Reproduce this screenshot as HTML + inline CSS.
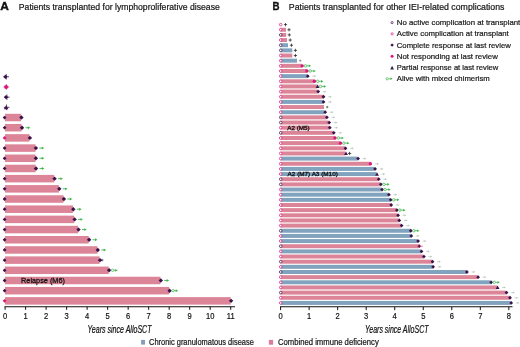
<!DOCTYPE html>
<html lang="en"><head><meta charset="utf-8"><title>Figure</title>
<style>html,body{margin:0;padding:0;background:#fff}body{width:520px;height:347px;overflow:hidden}svg{display:block}</style>
</head><body>
<svg width="520" height="347" viewBox="0 0 520 347" font-family="'Liberation Sans', sans-serif">
<rect width="520" height="347" fill="#fff"/>
<path d="M3.60 76.80H9.00M6.30 74.10V79.50" stroke="#3B1149" stroke-width="0.8" fill="none"/>
<path d="M3.30 76.80L5.40 74.70L7.50 76.80L5.40 78.90Z" fill="#3B1149"/>
<path d="M3.60 86.98H9.20M6.40 84.19V89.78" stroke="#D8197B" stroke-width="0.8" fill="none"/>
<circle cx="6.10" cy="86.98" r="2.0" fill="#D8197B"/>
<path d="M4.20 97.17H9.60M6.90 94.47V99.87" stroke="#3B1149" stroke-width="0.8" fill="none"/>
<path d="M3.90 97.17L6.00 95.07L8.10 97.17L6.00 99.27Z" fill="#3B1149"/>
<path d="M3.80 107.35H9.40M6.60 104.55V110.15" stroke="#3B1149" stroke-width="0.8" fill="none"/>
<path d="M3.90 109.22L6.10 105.15L8.30 109.22Z" fill="#3B1149"/>
<rect x="5.00" y="113.79" width="16.00" height="7.5" fill="#DD8598"/>
<path d="M2.70 117.54L4.60 115.64L6.50 117.54L4.60 119.44Z" fill="#3B1149"/>
<path d="M19.20 117.54L21.40 115.34L23.60 117.54L21.40 119.74Z" fill="#3B1149"/>
<rect x="5.00" y="123.97" width="16.60" height="7.5" fill="#DD8598"/>
<path d="M2.70 127.72L4.60 125.82L6.50 127.72L4.60 129.62Z" fill="#3B1149"/>
<path d="M19.80 127.72L22.00 125.52L24.20 127.72L22.00 129.92Z" fill="#3B1149"/>
<path d="M25.50 127.72H28.50" stroke="#3DB54A" stroke-width="0.9" fill="none"/><path d="M27.90 126.28L30.30 127.72L27.90 129.16Z" fill="#3DB54A"/>
<rect x="5.00" y="134.16" width="24.50" height="7.5" fill="#DD8598"/>
<path d="M2.70 137.91L4.60 136.01L6.50 137.91L4.60 139.81Z" fill="#D8197B"/>
<path d="M27.70 137.91L29.90 135.71L32.10 137.91L29.90 140.11Z" fill="#3B1149"/>
<rect x="5.00" y="144.34" width="30.50" height="7.5" fill="#DD8598"/>
<path d="M2.70 148.09L4.60 146.19L6.50 148.09L4.60 150.00Z" fill="#3B1149"/>
<path d="M33.70 148.09L35.90 145.90L38.10 148.09L35.90 150.29Z" fill="#3B1149"/>
<path d="M39.40 148.09H42.40" stroke="#3DB54A" stroke-width="0.9" fill="none"/><path d="M41.80 146.66L44.20 148.09L41.80 149.53Z" fill="#3DB54A"/>
<rect x="5.00" y="154.53" width="30.50" height="7.5" fill="#DD8598"/>
<path d="M2.70 158.28L4.60 156.38L6.50 158.28L4.60 160.18Z" fill="#3B1149"/>
<path d="M33.70 158.28L35.90 156.08L38.10 158.28L35.90 160.48Z" fill="#3B1149"/>
<path d="M39.40 158.28H42.40" stroke="#3DB54A" stroke-width="0.9" fill="none"/><path d="M41.80 156.84L44.20 158.28L41.80 159.72Z" fill="#3DB54A"/>
<rect x="5.00" y="164.72" width="30.60" height="7.5" fill="#DD8598"/>
<path d="M2.70 168.47L4.60 166.56L6.50 168.47L4.60 170.37Z" fill="#3B1149"/>
<path d="M33.80 168.47L36.00 166.27L38.20 168.47L36.00 170.66Z" fill="#3B1149"/>
<path d="M39.50 168.47H42.50" stroke="#3DB54A" stroke-width="0.9" fill="none"/><path d="M41.90 167.03L44.30 168.47L41.90 169.91Z" fill="#3DB54A"/>
<rect x="5.00" y="174.90" width="49.20" height="7.5" fill="#DD8598"/>
<path d="M2.70 178.65L4.60 176.75L6.50 178.65L4.60 180.55Z" fill="#3B1149"/>
<path d="M52.40 178.65L54.60 176.45L56.80 178.65L54.60 180.85Z" fill="#3B1149"/>
<path d="M58.10 178.65H61.10" stroke="#3DB54A" stroke-width="0.9" fill="none"/><path d="M60.50 177.21L62.90 178.65L60.50 180.09Z" fill="#3DB54A"/>
<rect x="5.00" y="185.09" width="53.90" height="7.5" fill="#DD8598"/>
<path d="M2.70 188.84L4.60 186.94L6.50 188.84L4.60 190.74Z" fill="#3B1149"/>
<path d="M57.10 188.84L59.30 186.64L61.50 188.84L59.30 191.03Z" fill="#3B1149"/>
<path d="M62.80 188.84H65.80" stroke="#3DB54A" stroke-width="0.9" fill="none"/><path d="M65.20 187.40L67.60 188.84L65.20 190.28Z" fill="#3DB54A"/>
<rect x="5.00" y="195.27" width="58.50" height="7.5" fill="#DD8598"/>
<path d="M2.70 199.02L4.60 197.12L6.50 199.02L4.60 200.92Z" fill="#3B1149"/>
<path d="M61.70 199.02L63.90 196.82L66.10 199.02L63.90 201.22Z" fill="#3B1149"/>
<path d="M67.40 199.02H70.40" stroke="#3DB54A" stroke-width="0.9" fill="none"/><path d="M69.80 197.58L72.20 199.02L69.80 200.46Z" fill="#3DB54A"/>
<rect x="5.00" y="205.45" width="67.90" height="7.5" fill="#DD8598"/>
<path d="M2.70 209.20L4.60 207.30L6.50 209.20L4.60 211.10Z" fill="#3B1149"/>
<path d="M71.10 209.20L73.30 207.00L75.50 209.20L73.30 211.40Z" fill="#3B1149"/>
<path d="M76.80 209.20H79.80" stroke="#3DB54A" stroke-width="0.9" fill="none"/><path d="M79.20 207.76L81.60 209.20L79.20 210.64Z" fill="#3DB54A"/>
<rect x="5.00" y="215.64" width="69.20" height="7.5" fill="#DD8598"/>
<path d="M2.70 219.39L4.60 217.49L6.50 219.39L4.60 221.29Z" fill="#3B1149"/>
<path d="M72.40 219.39L74.60 217.19L76.80 219.39L74.60 221.59Z" fill="#3B1149"/>
<path d="M78.10 219.39H81.10" stroke="#3DB54A" stroke-width="0.9" fill="none"/><path d="M80.50 217.95L82.90 219.39L80.50 220.83Z" fill="#3DB54A"/>
<rect x="5.00" y="225.82" width="73.10" height="7.5" fill="#DD8598"/>
<path d="M2.70 229.57L4.60 227.67L6.50 229.57L4.60 231.47Z" fill="#3B1149"/>
<path d="M76.30 229.57L78.50 227.38L80.70 229.57L78.50 231.77Z" fill="#3B1149"/>
<path d="M82.00 229.57H85.00" stroke="#3DB54A" stroke-width="0.9" fill="none"/><path d="M84.40 228.13L86.80 229.57L84.40 231.01Z" fill="#3DB54A"/>
<rect x="5.00" y="236.01" width="83.70" height="7.5" fill="#DD8598"/>
<path d="M2.70 239.76L4.60 237.86L6.50 239.76L4.60 241.66Z" fill="#3B1149"/>
<path d="M86.90 239.76L89.10 237.56L91.30 239.76L89.10 241.96Z" fill="#3B1149"/>
<path d="M92.60 239.76H95.60" stroke="#3DB54A" stroke-width="0.9" fill="none"/><path d="M95.00 238.32L97.40 239.76L95.00 241.20Z" fill="#3DB54A"/>
<rect x="5.00" y="246.19" width="92.40" height="7.5" fill="#DD8598"/>
<path d="M2.70 249.94L4.60 248.04L6.50 249.94L4.60 251.84Z" fill="#3B1149"/>
<path d="M95.60 249.94L97.80 247.75L100.00 249.94L97.80 252.14Z" fill="#3B1149"/>
<path d="M101.30 249.94H104.30" stroke="#3DB54A" stroke-width="0.9" fill="none"/><path d="M103.70 248.50L106.10 249.94L103.70 251.38Z" fill="#3DB54A"/>
<rect x="5.00" y="256.38" width="94.60" height="7.5" fill="#DD8598"/>
<path d="M2.70 260.13L4.60 258.23L6.50 260.13L4.60 262.03Z" fill="#3B1149"/>
<path d="M97.80 260.13L100.00 257.93L102.20 260.13L100.00 262.33Z" fill="#3B1149"/>
<path d="M100.90 260.13H103.50M102.20 258.83V261.43" stroke="#3B1149" stroke-width="0.6" fill="none"/>
<rect x="5.00" y="266.56" width="103.70" height="7.5" fill="#DD8598"/>
<path d="M2.70 270.31L4.60 268.42L6.50 270.31L4.60 272.21Z" fill="#3B1149"/>
<path d="M106.90 270.31L109.10 268.12L111.30 270.31L109.10 272.51Z" fill="#3B1149"/>
<path d="M113.30 270.31H115.90" stroke="#3DB54A" stroke-width="0.9" fill="none"/><path d="M115.30 268.88L117.70 270.31L115.30 271.75Z" fill="#3DB54A"/>
<circle cx="112.60" cy="270.31" r="1.2" fill="#fff" stroke="#3DB54A" stroke-width="0.7"/>
<rect x="5.00" y="276.75" width="155.40" height="7.5" fill="#DD8598"/>
<path d="M2.70 280.50L4.60 278.60L6.50 280.50L4.60 282.40Z" fill="#3B1149"/>
<path d="M158.60 280.50L160.80 278.30L163.00 280.50L160.80 282.70Z" fill="#3B1149"/>
<path d="M164.30 280.50H167.30" stroke="#3DB54A" stroke-width="0.9" fill="none"/><path d="M166.70 279.06L169.10 280.50L166.70 281.94Z" fill="#3DB54A"/>
<rect x="5.00" y="286.94" width="164.20" height="7.5" fill="#DD8598"/>
<path d="M2.70 290.69L4.60 288.79L6.50 290.69L4.60 292.58Z" fill="#3B1149"/>
<path d="M167.40 290.69L169.60 288.49L171.80 290.69L169.60 292.88Z" fill="#3B1149"/>
<path d="M173.80 290.69H176.40" stroke="#3DB54A" stroke-width="0.9" fill="none"/><path d="M175.80 289.25L178.20 290.69L175.80 292.12Z" fill="#3DB54A"/>
<circle cx="173.10" cy="290.69" r="1.2" fill="#fff" stroke="#3DB54A" stroke-width="0.7"/>
<rect x="5.00" y="297.12" width="225.70" height="7.5" fill="#DD8598"/>
<path d="M2.70 300.87L4.60 298.97L6.50 300.87L4.60 302.77Z" fill="#D8197B"/>
<path d="M228.90 300.87L231.10 298.67L233.30 300.87L231.10 303.07Z" fill="#3B1149"/>
<text x="21.1" y="283.20" font-size="7.7" fill="#151515" stroke="#151515" stroke-width="0.3" textLength="43.8" lengthAdjust="spacingAndGlyphs">Relapse (M6)</text>
<path d="M4.5 306.7H235" stroke="#111" stroke-width="1.1" fill="none"/>
<path d="M5.10 306.7V309.8" stroke="#111" stroke-width="1" fill="none"/>
<text x="5.10" y="319" font-size="8.8" text-anchor="middle" fill="#111" stroke="#111" stroke-width="0.2" transform="translate(0.71 0) scale(0.86 1)">0</text>
<path d="M25.61 306.7V309.8" stroke="#111" stroke-width="1" fill="none"/>
<text x="25.61" y="319" font-size="8.8" text-anchor="middle" fill="#111" stroke="#111" stroke-width="0.2" transform="translate(3.59 0) scale(0.86 1)">1</text>
<path d="M46.12 306.7V309.8" stroke="#111" stroke-width="1" fill="none"/>
<text x="46.12" y="319" font-size="8.8" text-anchor="middle" fill="#111" stroke="#111" stroke-width="0.2" transform="translate(6.46 0) scale(0.86 1)">2</text>
<path d="M66.63 306.7V309.8" stroke="#111" stroke-width="1" fill="none"/>
<text x="66.63" y="319" font-size="8.8" text-anchor="middle" fill="#111" stroke="#111" stroke-width="0.2" transform="translate(9.33 0) scale(0.86 1)">3</text>
<path d="M87.14 306.7V309.8" stroke="#111" stroke-width="1" fill="none"/>
<text x="87.14" y="319" font-size="8.8" text-anchor="middle" fill="#111" stroke="#111" stroke-width="0.2" transform="translate(12.20 0) scale(0.86 1)">4</text>
<path d="M107.65 306.7V309.8" stroke="#111" stroke-width="1" fill="none"/>
<text x="107.65" y="319" font-size="8.8" text-anchor="middle" fill="#111" stroke="#111" stroke-width="0.2" transform="translate(15.07 0) scale(0.86 1)">5</text>
<path d="M128.16 306.7V309.8" stroke="#111" stroke-width="1" fill="none"/>
<text x="128.16" y="319" font-size="8.8" text-anchor="middle" fill="#111" stroke="#111" stroke-width="0.2" transform="translate(17.94 0) scale(0.86 1)">6</text>
<path d="M148.67 306.7V309.8" stroke="#111" stroke-width="1" fill="none"/>
<text x="148.67" y="319" font-size="8.8" text-anchor="middle" fill="#111" stroke="#111" stroke-width="0.2" transform="translate(20.81 0) scale(0.86 1)">7</text>
<path d="M169.18 306.7V309.8" stroke="#111" stroke-width="1" fill="none"/>
<text x="169.18" y="319" font-size="8.8" text-anchor="middle" fill="#111" stroke="#111" stroke-width="0.2" transform="translate(23.69 0) scale(0.86 1)">8</text>
<path d="M189.69 306.7V309.8" stroke="#111" stroke-width="1" fill="none"/>
<text x="189.69" y="319" font-size="8.8" text-anchor="middle" fill="#111" stroke="#111" stroke-width="0.2" transform="translate(26.56 0) scale(0.86 1)">9</text>
<path d="M210.20 306.7V309.8" stroke="#111" stroke-width="1" fill="none"/>
<text x="210.20" y="319" font-size="8.8" text-anchor="middle" fill="#111" stroke="#111" stroke-width="0.2" transform="translate(29.43 0) scale(0.86 1)">10</text>
<path d="M230.71 306.7V309.8" stroke="#111" stroke-width="1" fill="none"/>
<text x="230.71" y="319" font-size="8.8" text-anchor="middle" fill="#111" stroke="#111" stroke-width="0.2" transform="translate(32.30 0) scale(0.86 1)">11</text>
<text x="87.5" y="332.8" font-size="10" font-style="italic" fill="#111" stroke="#111" stroke-width="0.22" textLength="64" lengthAdjust="spacingAndGlyphs">Years since AlloSCT</text>
<circle cx="280.70" cy="24.60" r="1.3" fill="#fff" stroke="#D8197B" stroke-width="0.75"/>
<path d="M283.90 24.60H287.10M285.50 23.00V26.20" stroke="#2a2a2a" stroke-width="0.8" fill="none"/>
<rect x="280.60" y="27.75" width="5.40" height="4.0" fill="#DD8598"/>
<circle cx="280.70" cy="29.75" r="1.3" fill="#fff" stroke="#D8197B" stroke-width="0.75"/>
<path d="M287.40 29.75H290.60M289.00 28.15V31.35" stroke="#2a2a2a" stroke-width="0.8" fill="none"/>
<rect x="280.60" y="32.91" width="5.60" height="4.0" fill="#DD8598"/>
<circle cx="280.70" cy="34.91" r="1.3" fill="#fff" stroke="#3B1149" stroke-width="0.75"/>
<path d="M287.70 34.91H290.90M289.30 33.31V36.51" stroke="#2a2a2a" stroke-width="0.8" fill="none"/>
<rect x="280.60" y="38.06" width="6.40" height="4.0" fill="#DD8598"/>
<circle cx="280.70" cy="40.06" r="1.3" fill="#fff" stroke="#D8197B" stroke-width="0.75"/>
<path d="M288.60 40.06H291.80M290.20 38.46V41.66" stroke="#2a2a2a" stroke-width="0.8" fill="none"/>
<rect x="280.60" y="43.22" width="7.40" height="4.0" fill="#82A3BE"/>
<circle cx="280.70" cy="45.22" r="1.3" fill="#fff" stroke="#3B1149" stroke-width="0.75"/>
<path d="M289.90 45.22H293.10M291.50 43.62V46.82" stroke="#2a2a2a" stroke-width="0.8" fill="none"/>
<rect x="280.60" y="48.37" width="11.70" height="4.0" fill="#82A3BE"/>
<circle cx="280.70" cy="50.37" r="1.3" fill="#fff" stroke="#3B1149" stroke-width="0.75"/>
<path d="M293.80 50.37H297.00M295.40 48.77V51.97" stroke="#2a2a2a" stroke-width="0.8" fill="none"/>
<rect x="280.60" y="53.52" width="11.70" height="4.0" fill="#DD8598"/>
<circle cx="280.70" cy="55.52" r="1.3" fill="#fff" stroke="#D8197B" stroke-width="0.75"/>
<path d="M293.80 55.52H297.00M295.40 53.92V57.12" stroke="#2a2a2a" stroke-width="0.8" fill="none"/>
<rect x="280.60" y="58.68" width="16.40" height="4.0" fill="#82A3BE"/>
<circle cx="280.70" cy="60.68" r="1.3" fill="#fff" stroke="#D8197B" stroke-width="0.75"/>
<path d="M299.00 60.68H301.40M300.20 59.48V61.88" stroke="#8a8a8a" stroke-width="0.8" fill="none"/>
<rect x="280.60" y="63.83" width="21.40" height="4.0" fill="#DD8598"/>
<circle cx="280.70" cy="65.83" r="1.3" fill="#fff" stroke="#D8197B" stroke-width="0.75"/>
<circle cx="302.20" cy="65.83" r="1.7" fill="#D8197B"/>
<path d="M306.50 65.83H309.40" stroke="#3DB54A" stroke-width="0.8" fill="none"/><path d="M308.80 64.47L311.10 65.83L308.80 67.19Z" fill="#3DB54A"/>
<circle cx="305.50" cy="65.83" r="1.25" fill="#fff" stroke="#3DB54A" stroke-width="0.75"/>
<rect x="280.60" y="68.99" width="26.10" height="4.0" fill="#DD8598"/>
<circle cx="280.70" cy="70.99" r="1.3" fill="#fff" stroke="#D8197B" stroke-width="0.75"/>
<circle cx="306.90" cy="70.99" r="1.7" fill="#D8197B"/>
<path d="M311.20 70.99H314.10" stroke="#3DB54A" stroke-width="0.8" fill="none"/><path d="M313.50 69.63L315.80 70.99L313.50 72.35Z" fill="#3DB54A"/>
<circle cx="310.20" cy="70.99" r="1.25" fill="#fff" stroke="#3DB54A" stroke-width="0.75"/>
<rect x="280.60" y="74.14" width="26.70" height="4.0" fill="#82A3BE"/>
<circle cx="280.70" cy="76.14" r="1.3" fill="#fff" stroke="#D8197B" stroke-width="0.75"/>
<path d="M305.90 76.14L307.80 74.24L309.70 76.14L307.80 78.04Z" fill="#3B1149"/>
<path d="M312.30 76.14H314.70" stroke="#B9C6BB" stroke-width="0.7" fill="none"/><path d="M314.10 75.02L316.10 76.14L314.10 77.26Z" fill="#B9C6BB"/>
<rect x="280.60" y="79.29" width="33.60" height="4.0" fill="#DD8598"/>
<circle cx="280.70" cy="81.29" r="1.3" fill="#fff" stroke="#D8197B" stroke-width="0.75"/>
<circle cx="314.40" cy="81.29" r="1.7" fill="#D8197B"/>
<path d="M318.70 81.29H321.60" stroke="#3DB54A" stroke-width="0.8" fill="none"/><path d="M321.00 79.93L323.30 81.29L321.00 82.65Z" fill="#3DB54A"/>
<circle cx="317.70" cy="81.29" r="1.25" fill="#fff" stroke="#3DB54A" stroke-width="0.75"/>
<rect x="280.60" y="84.45" width="36.40" height="4.0" fill="#DD8598"/>
<circle cx="280.70" cy="86.45" r="1.3" fill="#fff" stroke="#D8197B" stroke-width="0.75"/>
<path d="M315.70 88.06L317.60 84.55L319.50 88.06Z" fill="#3B1149"/>
<path d="M321.50 86.45H324.40" stroke="#3DB54A" stroke-width="0.8" fill="none"/><path d="M323.80 85.09L326.10 86.45L323.80 87.81Z" fill="#3DB54A"/>
<circle cx="320.50" cy="86.45" r="1.25" fill="#fff" stroke="#3DB54A" stroke-width="0.75"/>
<rect x="280.60" y="89.60" width="37.10" height="4.0" fill="#DD8598"/>
<circle cx="280.70" cy="91.60" r="1.3" fill="#fff" stroke="#D8197B" stroke-width="0.75"/>
<path d="M316.30 91.60L318.20 89.70L320.10 91.60L318.20 93.50Z" fill="#3B1149"/>
<path d="M322.70 91.60H325.10" stroke="#B9C6BB" stroke-width="0.7" fill="none"/><path d="M324.50 90.48L326.50 91.60L324.50 92.72Z" fill="#B9C6BB"/>
<rect x="280.60" y="94.76" width="42.40" height="4.0" fill="#DD8598"/>
<circle cx="280.70" cy="96.76" r="1.3" fill="#fff" stroke="#D8197B" stroke-width="0.75"/>
<path d="M321.60 96.76L323.50 94.86L325.40 96.76L323.50 98.66Z" fill="#3B1149"/>
<path d="M328.00 96.76H330.40" stroke="#B9C6BB" stroke-width="0.7" fill="none"/><path d="M329.80 95.64L331.80 96.76L329.80 97.88Z" fill="#B9C6BB"/>
<rect x="280.60" y="99.91" width="42.40" height="4.0" fill="#82A3BE"/>
<circle cx="280.70" cy="101.91" r="1.3" fill="#fff" stroke="#D8197B" stroke-width="0.75"/>
<path d="M321.60 101.91L323.50 100.01L325.40 101.91L323.50 103.81Z" fill="#3B1149"/>
<path d="M328.00 101.91H330.40" stroke="#B9C6BB" stroke-width="0.7" fill="none"/><path d="M329.80 100.79L331.80 101.91L329.80 103.03Z" fill="#B9C6BB"/>
<rect x="280.60" y="105.06" width="43.40" height="4.0" fill="#DD8598"/>
<circle cx="280.70" cy="107.06" r="1.3" fill="#fff" stroke="#D8197B" stroke-width="0.75"/>
<path d="M326.00 107.06H328.40M327.20 105.86V108.26" stroke="#3a6a3a" stroke-width="0.8" fill="none"/>
<rect x="280.60" y="110.22" width="44.10" height="4.0" fill="#82A3BE"/>
<circle cx="280.70" cy="112.22" r="1.3" fill="#fff" stroke="#D8197B" stroke-width="0.75"/>
<path d="M323.30 112.22L325.20 110.32L327.10 112.22L325.20 114.12Z" fill="#3B1149"/>
<path d="M329.70 112.22H332.10" stroke="#B9C6BB" stroke-width="0.7" fill="none"/><path d="M331.50 111.10L333.50 112.22L331.50 113.34Z" fill="#B9C6BB"/>
<rect x="280.60" y="115.37" width="45.80" height="4.0" fill="#DD8598"/>
<circle cx="280.70" cy="117.37" r="1.3" fill="#fff" stroke="#3B1149" stroke-width="0.75"/>
<path d="M325.00 117.37L326.90 115.47L328.80 117.37L326.90 119.27Z" fill="#3B1149"/>
<path d="M331.40 117.37H333.80" stroke="#B9C6BB" stroke-width="0.7" fill="none"/><path d="M333.20 116.25L335.20 117.37L333.20 118.49Z" fill="#B9C6BB"/>
<rect x="280.60" y="120.53" width="48.10" height="4.0" fill="#DD8598"/>
<circle cx="280.70" cy="122.53" r="1.3" fill="#fff" stroke="#3B1149" stroke-width="0.75"/>
<path d="M327.30 122.53L329.20 120.63L331.10 122.53L329.20 124.43Z" fill="#3B1149"/>
<path d="M333.70 122.53H336.10" stroke="#B9C6BB" stroke-width="0.7" fill="none"/><path d="M335.50 121.41L337.50 122.53L335.50 123.65Z" fill="#B9C6BB"/>
<rect x="280.60" y="125.68" width="48.70" height="4.0" fill="#DD8598"/>
<circle cx="280.70" cy="127.68" r="1.3" fill="#fff" stroke="#D8197B" stroke-width="0.75"/>
<path d="M327.90 127.68L329.80 125.78L331.70 127.68L329.80 129.58Z" fill="#3B1149"/>
<path d="M334.30 127.68H336.70" stroke="#B9C6BB" stroke-width="0.7" fill="none"/><path d="M336.10 126.56L338.10 127.68L336.10 128.80Z" fill="#B9C6BB"/>
<rect x="280.60" y="130.83" width="52.70" height="4.0" fill="#DD8598"/>
<circle cx="280.70" cy="132.83" r="1.3" fill="#fff" stroke="#3B1149" stroke-width="0.75"/>
<path d="M331.90 132.83L333.80 130.93L335.70 132.83L333.80 134.73Z" fill="#3B1149"/>
<path d="M338.30 132.83H340.70" stroke="#B9C6BB" stroke-width="0.7" fill="none"/><path d="M340.10 131.71L342.10 132.83L340.10 133.95Z" fill="#B9C6BB"/>
<rect x="280.60" y="135.99" width="54.20" height="4.0" fill="#DD8598"/>
<circle cx="280.70" cy="137.99" r="1.3" fill="#fff" stroke="#D8197B" stroke-width="0.75"/>
<circle cx="335.00" cy="137.99" r="1.7" fill="#D8197B"/>
<path d="M339.30 137.99H342.20" stroke="#3DB54A" stroke-width="0.8" fill="none"/><path d="M341.60 136.63L343.90 137.99L341.60 139.35Z" fill="#3DB54A"/>
<circle cx="338.30" cy="137.99" r="1.25" fill="#fff" stroke="#3DB54A" stroke-width="0.75"/>
<rect x="280.60" y="141.14" width="59.70" height="4.0" fill="#DD8598"/>
<circle cx="280.70" cy="143.14" r="1.3" fill="#fff" stroke="#D8197B" stroke-width="0.75"/>
<circle cx="340.50" cy="143.14" r="1.7" fill="#D8197B"/>
<path d="M344.80 143.14H347.70" stroke="#3DB54A" stroke-width="0.8" fill="none"/><path d="M347.10 141.78L349.40 143.14L347.10 144.50Z" fill="#3DB54A"/>
<circle cx="343.80" cy="143.14" r="1.25" fill="#fff" stroke="#3DB54A" stroke-width="0.75"/>
<rect x="280.60" y="146.30" width="64.40" height="4.0" fill="#DD8598"/>
<circle cx="280.70" cy="148.30" r="1.3" fill="#fff" stroke="#D8197B" stroke-width="0.75"/>
<path d="M343.60 148.30L345.50 146.40L347.40 148.30L345.50 150.20Z" fill="#3B1149"/>
<path d="M350.00 148.30H352.40" stroke="#B9C6BB" stroke-width="0.7" fill="none"/><path d="M351.80 147.18L353.80 148.30L351.80 149.42Z" fill="#B9C6BB"/>
<rect x="280.60" y="151.45" width="64.80" height="4.0" fill="#DD8598"/>
<circle cx="280.70" cy="153.45" r="1.3" fill="#fff" stroke="#D8197B" stroke-width="0.75"/>
<path d="M344.10 155.06L346.00 151.55L347.90 155.06Z" fill="#3B1149"/>
<path d="M348.00 153.45H351.20M349.60 151.85V155.05" stroke="#2a2a2a" stroke-width="0.8" fill="none"/>
<rect x="280.60" y="156.60" width="77.00" height="4.0" fill="#82A3BE"/>
<circle cx="280.70" cy="158.60" r="1.3" fill="#fff" stroke="#D8197B" stroke-width="0.75"/>
<path d="M356.20 158.60L358.10 156.70L360.00 158.60L358.10 160.50Z" fill="#3B1149"/>
<path d="M362.60 158.60H365.00" stroke="#B9C6BB" stroke-width="0.7" fill="none"/><path d="M364.40 157.48L366.40 158.60L364.40 159.72Z" fill="#B9C6BB"/>
<rect x="280.60" y="161.76" width="89.60" height="4.0" fill="#DD8598"/>
<circle cx="280.70" cy="163.76" r="1.3" fill="#fff" stroke="#D8197B" stroke-width="0.75"/>
<circle cx="370.40" cy="163.76" r="1.7" fill="#D8197B"/>
<path d="M375.20 163.76H377.60" stroke="#B9C6BB" stroke-width="0.7" fill="none"/><path d="M377.00 162.64L379.00 163.76L377.00 164.88Z" fill="#B9C6BB"/>
<rect x="280.60" y="166.91" width="94.00" height="4.0" fill="#82A3BE"/>
<circle cx="280.70" cy="168.91" r="1.3" fill="#fff" stroke="#D8197B" stroke-width="0.75"/>
<path d="M373.20 168.91L375.10 167.01L377.00 168.91L375.10 170.81Z" fill="#3B1149"/>
<path d="M379.60 168.91H382.00" stroke="#B9C6BB" stroke-width="0.7" fill="none"/><path d="M381.40 167.79L383.40 168.91L381.40 170.03Z" fill="#B9C6BB"/>
<rect x="280.60" y="172.07" width="95.80" height="4.0" fill="#82A3BE"/>
<circle cx="280.70" cy="174.07" r="1.3" fill="#fff" stroke="#D8197B" stroke-width="0.75"/>
<path d="M375.10 175.68L377.00 172.17L378.90 175.68Z" fill="#3B1149"/>
<path d="M381.40 174.07H383.80" stroke="#B9C6BB" stroke-width="0.7" fill="none"/><path d="M383.20 172.95L385.20 174.07L383.20 175.19Z" fill="#B9C6BB"/>
<rect x="280.60" y="177.22" width="97.60" height="4.0" fill="#DD8598"/>
<circle cx="280.70" cy="179.22" r="1.3" fill="#fff" stroke="#3B1149" stroke-width="0.75"/>
<path d="M376.80 179.22L378.70 177.32L380.60 179.22L378.70 181.12Z" fill="#3B1149"/>
<path d="M383.20 179.22H385.60" stroke="#B9C6BB" stroke-width="0.7" fill="none"/><path d="M385.00 178.10L387.00 179.22L385.00 180.34Z" fill="#B9C6BB"/>
<rect x="280.60" y="182.37" width="99.80" height="4.0" fill="#DD8598"/>
<circle cx="280.70" cy="184.37" r="1.3" fill="#fff" stroke="#3B1149" stroke-width="0.75"/>
<path d="M379.00 184.37L380.90 182.47L382.80 184.37L380.90 186.27Z" fill="#3B1149"/>
<path d="M384.90 184.37H387.80" stroke="#3DB54A" stroke-width="0.8" fill="none"/><path d="M387.20 183.01L389.50 184.37L387.20 185.73Z" fill="#3DB54A"/>
<circle cx="383.90" cy="184.37" r="1.25" fill="#fff" stroke="#3DB54A" stroke-width="0.75"/>
<rect x="280.60" y="187.53" width="101.00" height="4.0" fill="#82A3BE"/>
<circle cx="280.70" cy="189.53" r="1.3" fill="#fff" stroke="#D8197B" stroke-width="0.75"/>
<path d="M380.20 189.53L382.10 187.63L384.00 189.53L382.10 191.43Z" fill="#3B1149"/>
<path d="M386.10 189.53H389.00" stroke="#3DB54A" stroke-width="0.8" fill="none"/><path d="M388.40 188.17L390.70 189.53L388.40 190.89Z" fill="#3DB54A"/>
<circle cx="385.10" cy="189.53" r="1.25" fill="#fff" stroke="#3DB54A" stroke-width="0.75"/>
<rect x="280.60" y="192.68" width="107.80" height="4.0" fill="#82A3BE"/>
<circle cx="280.70" cy="194.68" r="1.3" fill="#fff" stroke="#D8197B" stroke-width="0.75"/>
<path d="M387.00 194.68L388.90 192.78L390.80 194.68L388.90 196.58Z" fill="#3B1149"/>
<path d="M393.40 194.68H395.80" stroke="#B9C6BB" stroke-width="0.7" fill="none"/><path d="M395.20 193.56L397.20 194.68L395.20 195.80Z" fill="#B9C6BB"/>
<rect x="280.60" y="197.84" width="109.60" height="4.0" fill="#82A3BE"/>
<circle cx="280.70" cy="199.84" r="1.3" fill="#fff" stroke="#D8197B" stroke-width="0.75"/>
<path d="M388.80 199.84L390.70 197.94L392.60 199.84L390.70 201.74Z" fill="#3B1149"/>
<path d="M394.70 199.84H397.60" stroke="#3DB54A" stroke-width="0.8" fill="none"/><path d="M397.00 198.48L399.30 199.84L397.00 201.20Z" fill="#3DB54A"/>
<circle cx="393.70" cy="199.84" r="1.25" fill="#fff" stroke="#3DB54A" stroke-width="0.75"/>
<rect x="280.60" y="202.99" width="110.10" height="4.0" fill="#DD8598"/>
<circle cx="280.70" cy="204.99" r="1.3" fill="#fff" stroke="#D8197B" stroke-width="0.75"/>
<path d="M389.30 204.99L391.20 203.09L393.10 204.99L391.20 206.89Z" fill="#3B1149"/>
<path d="M395.70 204.99H398.10" stroke="#B9C6BB" stroke-width="0.7" fill="none"/><path d="M397.50 203.87L399.50 204.99L397.50 206.11Z" fill="#B9C6BB"/>
<rect x="280.60" y="208.14" width="115.80" height="4.0" fill="#DD8598"/>
<circle cx="280.70" cy="210.14" r="1.3" fill="#fff" stroke="#D8197B" stroke-width="0.75"/>
<path d="M395.00 210.14L396.90 208.24L398.80 210.14L396.90 212.04Z" fill="#3B1149"/>
<path d="M400.90 210.14H403.80" stroke="#3DB54A" stroke-width="0.8" fill="none"/><path d="M403.20 208.78L405.50 210.14L403.20 211.50Z" fill="#3DB54A"/>
<circle cx="399.90" cy="210.14" r="1.25" fill="#fff" stroke="#3DB54A" stroke-width="0.75"/>
<rect x="280.60" y="213.30" width="117.00" height="4.0" fill="#DD8598"/>
<circle cx="280.70" cy="215.30" r="1.3" fill="#fff" stroke="#D8197B" stroke-width="0.75"/>
<path d="M396.20 215.30L398.10 213.40L400.00 215.30L398.10 217.20Z" fill="#3B1149"/>
<path d="M402.60 215.30H405.00" stroke="#B9C6BB" stroke-width="0.7" fill="none"/><path d="M404.40 214.18L406.40 215.30L404.40 216.42Z" fill="#B9C6BB"/>
<rect x="280.60" y="218.45" width="118.20" height="4.0" fill="#DD8598"/>
<circle cx="280.70" cy="220.45" r="1.3" fill="#fff" stroke="#D8197B" stroke-width="0.75"/>
<path d="M397.40 220.45L399.30 218.55L401.20 220.45L399.30 222.35Z" fill="#3B1149"/>
<path d="M403.80 220.45H406.20" stroke="#B9C6BB" stroke-width="0.7" fill="none"/><path d="M405.60 219.33L407.60 220.45L405.60 221.57Z" fill="#B9C6BB"/>
<rect x="280.60" y="223.61" width="120.50" height="4.0" fill="#DD8598"/>
<circle cx="280.70" cy="225.61" r="1.3" fill="#fff" stroke="#D8197B" stroke-width="0.75"/>
<path d="M399.70 225.61L401.60 223.71L403.50 225.61L401.60 227.51Z" fill="#3B1149"/>
<path d="M406.10 225.61H408.50" stroke="#B9C6BB" stroke-width="0.7" fill="none"/><path d="M407.90 224.49L409.90 225.61L407.90 226.73Z" fill="#B9C6BB"/>
<rect x="280.60" y="228.76" width="129.70" height="4.0" fill="#82A3BE"/>
<circle cx="280.70" cy="230.76" r="1.3" fill="#fff" stroke="#3B1149" stroke-width="0.75"/>
<path d="M408.90 230.76L410.80 228.86L412.70 230.76L410.80 232.66Z" fill="#3B1149"/>
<path d="M414.80 230.76H417.70" stroke="#3DB54A" stroke-width="0.8" fill="none"/><path d="M417.10 229.40L419.40 230.76L417.10 232.12Z" fill="#3DB54A"/>
<circle cx="413.80" cy="230.76" r="1.25" fill="#fff" stroke="#3DB54A" stroke-width="0.75"/>
<rect x="280.60" y="233.91" width="130.20" height="4.0" fill="#82A3BE"/>
<circle cx="280.70" cy="235.91" r="1.3" fill="#fff" stroke="#D8197B" stroke-width="0.75"/>
<path d="M409.40 235.91L411.30 234.01L413.20 235.91L411.30 237.81Z" fill="#3B1149"/>
<path d="M415.80 235.91H418.20" stroke="#B9C6BB" stroke-width="0.7" fill="none"/><path d="M417.60 234.79L419.60 235.91L417.60 237.03Z" fill="#B9C6BB"/>
<rect x="280.60" y="239.07" width="137.00" height="4.0" fill="#82A3BE"/>
<circle cx="280.70" cy="241.07" r="1.3" fill="#fff" stroke="#D8197B" stroke-width="0.75"/>
<path d="M416.20 241.07L418.10 239.17L420.00 241.07L418.10 242.97Z" fill="#3B1149"/>
<path d="M422.60 241.07H425.00" stroke="#B9C6BB" stroke-width="0.7" fill="none"/><path d="M424.40 239.95L426.40 241.07L424.40 242.19Z" fill="#B9C6BB"/>
<rect x="280.60" y="244.22" width="138.20" height="4.0" fill="#DD8598"/>
<circle cx="280.70" cy="246.22" r="1.3" fill="#fff" stroke="#3B1149" stroke-width="0.75"/>
<path d="M417.40 246.22L419.30 244.32L421.20 246.22L419.30 248.12Z" fill="#7A1456"/>
<path d="M420.80 246.22H422.10" stroke="#E58A9A" stroke-width="0.6" fill="none"/><path d="M421.50 245.26L423.30 246.22L421.50 247.18Z" fill="#E58A9A"/>
<rect x="280.60" y="249.38" width="140.40" height="4.0" fill="#82A3BE"/>
<circle cx="280.70" cy="251.38" r="1.3" fill="#fff" stroke="#D8197B" stroke-width="0.75"/>
<path d="M419.60 251.38L421.50 249.48L423.40 251.38L421.50 253.28Z" fill="#3B1149"/>
<path d="M426.00 251.38H428.40" stroke="#B9C6BB" stroke-width="0.7" fill="none"/><path d="M427.80 250.26L429.80 251.38L427.80 252.50Z" fill="#B9C6BB"/>
<rect x="280.60" y="254.53" width="142.80" height="4.0" fill="#DD8598"/>
<circle cx="280.70" cy="256.53" r="1.3" fill="#fff" stroke="#D8197B" stroke-width="0.75"/>
<path d="M422.00 256.53L423.90 254.63L425.80 256.53L423.90 258.43Z" fill="#3B1149"/>
<path d="M428.40 256.53H430.80" stroke="#B9C6BB" stroke-width="0.7" fill="none"/><path d="M430.20 255.41L432.20 256.53L430.20 257.65Z" fill="#B9C6BB"/>
<rect x="280.60" y="259.68" width="151.40" height="4.0" fill="#DD8598"/>
<circle cx="280.70" cy="261.68" r="1.3" fill="#fff" stroke="#3B1149" stroke-width="0.75"/>
<path d="M430.60 261.68L432.50 259.78L434.40 261.68L432.50 263.58Z" fill="#3B1149"/>
<path d="M437.00 261.68H439.40" stroke="#B9C6BB" stroke-width="0.7" fill="none"/><path d="M438.80 260.56L440.80 261.68L438.80 262.80Z" fill="#B9C6BB"/>
<rect x="280.60" y="264.84" width="152.00" height="4.0" fill="#82A3BE"/>
<circle cx="280.70" cy="266.84" r="1.3" fill="#fff" stroke="#D8197B" stroke-width="0.75"/>
<path d="M431.20 266.84L433.10 264.94L435.00 266.84L433.10 268.74Z" fill="#3B1149"/>
<path d="M437.60 266.84H440.00" stroke="#B9C6BB" stroke-width="0.7" fill="none"/><path d="M439.40 265.72L441.40 266.84L439.40 267.96Z" fill="#B9C6BB"/>
<rect x="280.60" y="269.99" width="185.80" height="4.0" fill="#82A3BE"/>
<circle cx="280.70" cy="271.99" r="1.3" fill="#fff" stroke="#3B1149" stroke-width="0.75"/>
<path d="M465.00 271.99L466.90 270.09L468.80 271.99L466.90 273.89Z" fill="#3B1149"/>
<path d="M471.40 271.99H473.80" stroke="#B9C6BB" stroke-width="0.7" fill="none"/><path d="M473.20 270.87L475.20 271.99L473.20 273.11Z" fill="#B9C6BB"/>
<rect x="280.60" y="275.15" width="197.00" height="4.0" fill="#DD8598"/>
<circle cx="280.70" cy="277.15" r="1.3" fill="#fff" stroke="#D8197B" stroke-width="0.75"/>
<path d="M476.20 277.15L478.10 275.25L480.00 277.15L478.10 279.05Z" fill="#3B1149"/>
<path d="M482.60 277.15H485.00" stroke="#B9C6BB" stroke-width="0.7" fill="none"/><path d="M484.40 276.03L486.40 277.15L484.40 278.27Z" fill="#B9C6BB"/>
<rect x="280.60" y="280.30" width="210.10" height="4.0" fill="#82A3BE"/>
<circle cx="280.70" cy="282.30" r="1.3" fill="#fff" stroke="#D8197B" stroke-width="0.75"/>
<path d="M489.30 282.30L491.20 280.40L493.10 282.30L491.20 284.20Z" fill="#3B1149"/>
<path d="M495.20 282.30H498.10" stroke="#3DB54A" stroke-width="0.8" fill="none"/><path d="M497.50 280.94L499.80 282.30L497.50 283.66Z" fill="#3DB54A"/>
<circle cx="494.20" cy="282.30" r="1.25" fill="#fff" stroke="#3DB54A" stroke-width="0.75"/>
<rect x="280.60" y="285.45" width="216.40" height="4.0" fill="#DD8598"/>
<circle cx="280.70" cy="287.45" r="1.3" fill="#fff" stroke="#D8197B" stroke-width="0.75"/>
<path d="M495.70 289.07L497.60 285.55L499.50 289.07Z" fill="#3B1149"/>
<path d="M502.00 287.45H504.40" stroke="#B9C6BB" stroke-width="0.7" fill="none"/><path d="M503.80 286.33L505.80 287.45L503.80 288.57Z" fill="#B9C6BB"/>
<rect x="280.60" y="290.61" width="225.40" height="4.0" fill="#DD8598"/>
<circle cx="280.70" cy="292.61" r="1.3" fill="#fff" stroke="#3B1149" stroke-width="0.75"/>
<path d="M504.60 292.61L506.50 290.71L508.40 292.61L506.50 294.51Z" fill="#3B1149"/>
<path d="M511.00 292.61H513.40" stroke="#B9C6BB" stroke-width="0.7" fill="none"/><path d="M512.80 291.49L514.80 292.61L512.80 293.73Z" fill="#B9C6BB"/>
<rect x="280.60" y="295.76" width="228.90" height="4.0" fill="#DD8598"/>
<circle cx="280.70" cy="297.76" r="1.3" fill="#fff" stroke="#D8197B" stroke-width="0.75"/>
<path d="M508.10 297.76L510.00 295.86L511.90 297.76L510.00 299.66Z" fill="#3B1149"/>
<path d="M514.50 297.76H516.90" stroke="#B9C6BB" stroke-width="0.7" fill="none"/><path d="M516.30 296.64L518.30 297.76L516.30 298.88Z" fill="#B9C6BB"/>
<rect x="280.60" y="300.92" width="230.10" height="4.0" fill="#82A3BE"/>
<circle cx="280.70" cy="302.92" r="1.3" fill="#fff" stroke="#D8197B" stroke-width="0.75"/>
<path d="M509.30 302.92L511.20 301.02L513.10 302.92L511.20 304.82Z" fill="#3B1149"/>
<path d="M515.70 302.92H518.10" stroke="#B9C6BB" stroke-width="0.7" fill="none"/><path d="M517.50 301.80L519.50 302.92L517.50 304.04Z" fill="#B9C6BB"/>
<text x="287.2" y="129.88" font-size="6.2" fill="#151515" stroke="#151515" stroke-width="0.3" textLength="22.4" lengthAdjust="spacingAndGlyphs">A2 (M5)</text>
<text x="287.6" y="176.27" font-size="6.2" fill="#151515" stroke="#151515" stroke-width="0.3" textLength="50.2" lengthAdjust="spacingAndGlyphs">A2 (M7) A3 (M10)</text>
<path d="M280 306.8H512.5" stroke="#111" stroke-width="1.1" fill="none"/>
<path d="M280.60 306.8V310.1" stroke="#111" stroke-width="1" fill="none"/>
<text x="280.60" y="319" font-size="8.8" text-anchor="middle" fill="#111" stroke="#111" stroke-width="0.2" transform="translate(39.28 0) scale(0.86 1)">0</text>
<path d="M309.13 306.8V310.1" stroke="#111" stroke-width="1" fill="none"/>
<text x="309.13" y="319" font-size="8.8" text-anchor="middle" fill="#111" stroke="#111" stroke-width="0.2" transform="translate(43.28 0) scale(0.86 1)">1</text>
<path d="M337.66 306.8V310.1" stroke="#111" stroke-width="1" fill="none"/>
<text x="337.66" y="319" font-size="8.8" text-anchor="middle" fill="#111" stroke="#111" stroke-width="0.2" transform="translate(47.27 0) scale(0.86 1)">2</text>
<path d="M366.19 306.8V310.1" stroke="#111" stroke-width="1" fill="none"/>
<text x="366.19" y="319" font-size="8.8" text-anchor="middle" fill="#111" stroke="#111" stroke-width="0.2" transform="translate(51.27 0) scale(0.86 1)">3</text>
<path d="M394.72 306.8V310.1" stroke="#111" stroke-width="1" fill="none"/>
<text x="394.72" y="319" font-size="8.8" text-anchor="middle" fill="#111" stroke="#111" stroke-width="0.2" transform="translate(55.26 0) scale(0.86 1)">4</text>
<path d="M423.25 306.8V310.1" stroke="#111" stroke-width="1" fill="none"/>
<text x="423.25" y="319" font-size="8.8" text-anchor="middle" fill="#111" stroke="#111" stroke-width="0.2" transform="translate(59.26 0) scale(0.86 1)">5</text>
<path d="M451.78 306.8V310.1" stroke="#111" stroke-width="1" fill="none"/>
<text x="451.78" y="319" font-size="8.8" text-anchor="middle" fill="#111" stroke="#111" stroke-width="0.2" transform="translate(63.25 0) scale(0.86 1)">6</text>
<path d="M480.31 306.8V310.1" stroke="#111" stroke-width="1" fill="none"/>
<text x="480.31" y="319" font-size="8.8" text-anchor="middle" fill="#111" stroke="#111" stroke-width="0.2" transform="translate(67.24 0) scale(0.86 1)">7</text>
<path d="M508.84 306.8V310.1" stroke="#111" stroke-width="1" fill="none"/>
<text x="508.84" y="319" font-size="8.8" text-anchor="middle" fill="#111" stroke="#111" stroke-width="0.2" transform="translate(71.24 0) scale(0.86 1)">8</text>
<text x="365" y="332.8" font-size="10" font-style="italic" fill="#111" stroke="#111" stroke-width="0.22" textLength="63.5" lengthAdjust="spacingAndGlyphs">Years since AlloSCT</text>
<text x="0.3" y="9.7" font-size="10.2" font-weight="bold" fill="#111" stroke="#111" stroke-width="0.35" textLength="8.6" lengthAdjust="spacingAndGlyphs">A</text>
<text x="18.8" y="9.7" font-size="8.7" fill="#151515" stroke="#151515" stroke-width="0.2" textLength="201" lengthAdjust="spacingAndGlyphs">Patients transplanted for lymphoproliferative disease</text>
<text x="272.6" y="9.7" font-size="10.2" font-weight="bold" fill="#111" stroke="#111" stroke-width="0.35" textLength="7.0" lengthAdjust="spacingAndGlyphs">B</text>
<text x="288.8" y="9.7" font-size="8.7" fill="#151515" stroke="#151515" stroke-width="0.2" textLength="215.6" lengthAdjust="spacingAndGlyphs">Patients transplanted for other IEI-related complications</text>
<text x="396.8" y="25.05" font-size="8.1" fill="#151515" stroke="#151515" stroke-width="0.2" textLength="123.5" lengthAdjust="spacingAndGlyphs">No active complication at transplant</text>
<circle cx="392.10" cy="22.60" r="1.1" fill="#fff" stroke="#3B1149" stroke-width="0.7"/>
<text x="396.8" y="36.29" font-size="8.1" fill="#151515" stroke="#151515" stroke-width="0.2" textLength="112" lengthAdjust="spacingAndGlyphs">Active complication at transplant</text>
<circle cx="392.10" cy="33.84" r="1.1" fill="#fff" stroke="#D8197B" stroke-width="0.7"/>
<text x="396.8" y="47.53" font-size="8.1" fill="#151515" stroke="#151515" stroke-width="0.2" textLength="114" lengthAdjust="spacingAndGlyphs">Complete response at last review</text>
<path d="M390.40 45.08L392.10 43.38L393.80 45.08L392.10 46.78Z" fill="#3B1149"/>
<text x="396.8" y="58.77" font-size="8.1" fill="#151515" stroke="#151515" stroke-width="0.2" textLength="101" lengthAdjust="spacingAndGlyphs">Not responding at last review</text>
<circle cx="392.10" cy="56.32" r="1.5" fill="#D8197B"/>
<text x="396.8" y="70.01" font-size="8.1" fill="#151515" stroke="#151515" stroke-width="0.2" textLength="101.5" lengthAdjust="spacingAndGlyphs">Partial response at last review</text>
<path d="M390.20 69.38L392.10 65.86L394.00 69.38Z" fill="#2E2A4A"/>
<text x="396.8" y="81.25" font-size="8.1" fill="#151515" stroke="#151515" stroke-width="0.2" textLength="93" lengthAdjust="spacingAndGlyphs">Alive with mixed chimerism</text>
<path d="M388.60 78.80H391.10" stroke="#3DB54A" stroke-width="0.8" fill="none"/><path d="M390.50 77.60L392.60 78.80L390.50 80.00Z" fill="#3DB54A"/>
<circle cx="387.20" cy="78.80" r="1.15" fill="#fff" stroke="#3DB54A" stroke-width="0.7"/>
<rect x="141.1" y="339.9" width="3.9" height="4.7" fill="#879DB6"/>
<text x="149" y="344.7" font-size="8.2" fill="#151515" stroke="#151515" stroke-width="0.2" textLength="104.8" lengthAdjust="spacingAndGlyphs">Chronic granulomatous disease</text>
<rect x="268.9" y="339.9" width="4.2" height="4.8" fill="#DA7D9B"/>
<text x="278" y="344.7" font-size="8.2" fill="#151515" stroke="#151515" stroke-width="0.2" textLength="100.8" lengthAdjust="spacingAndGlyphs">Combined immune deficiency</text>
</svg>
</body></html>
